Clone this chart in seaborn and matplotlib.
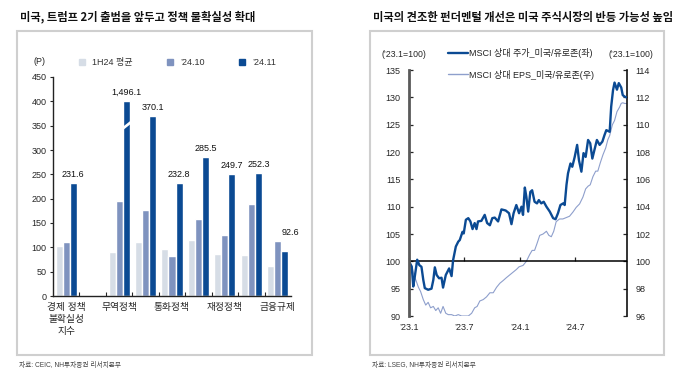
import pandas as pd
import matplotlib.pyplot as plt
import matplotlib.patches as mpatches
from matplotlib.lines import Line2D
import seaborn as sns

# ---- left chart: policy uncertainty (P) ----
slot_labels = ['경제 정책\n불확실성\n지수', '', '무역정책', '', '통화정책', '', '재정정책', '', '금융규제']
group_slots = [0, 2, 3, 4, 5, 6, 7, 8]
avg_1h24 = [102.7, 91.0, 110.0, 96.6, 115.0, 87.0, 84.0, 61.6]
oct_24 = [110.0, 195.0, 176.0, 81.5, 157.5, 124.7, 189.0, 112.0]
nov_24 = [231.6, 1496.1, 370.1, 232.8, 285.5, 249.7, 252.3, 92.6]
series_names = ['1H24 평균', '’24.10', '’24.11']
bar_colors = ['#D6DDE6', '#7F93BF', '#0B4A93']
y_cap = 400

# ---- right chart: MSCI US/Eurozone relative ('23.1=100) ----
price_dates = ['2023-01-01', '2023-01-10', '2023-01-15', '2023-01-20', '2023-01-28', '2023-02-04',
               '2023-02-11', '2023-02-17', '2023-02-22', '2023-03-05', '2023-03-16', '2023-03-22',
               '2023-03-27', '2023-04-02', '2023-04-10', '2023-04-18', '2023-04-23', '2023-05-02',
               '2023-05-13', '2023-05-21', '2023-05-26', '2023-06-04', '2023-06-12', '2023-06-17',
               '2023-06-26', '2023-06-30', '2023-07-07', '2023-07-15', '2023-07-22', '2023-07-29',
               '2023-08-05', '2023-08-11', '2023-08-16', '2023-08-27', '2023-09-07', '2023-09-15',
               '2023-09-24', '2023-10-02', '2023-10-10', '2023-10-21', '2023-11-01', '2023-11-15',
               '2023-11-26', '2023-12-04', '2023-12-11', '2023-12-20', '2023-12-29', '2024-01-06',
               '2024-01-11', '2024-01-17', '2024-01-22', '2024-01-28', '2024-02-04', '2024-02-10',
               '2024-02-18', '2024-02-26', '2024-03-03', '2024-03-11', '2024-03-19', '2024-03-28',
               '2024-04-08', '2024-04-19', '2024-04-27', '2024-05-05', '2024-05-13', '2024-05-22',
               '2024-05-27', '2024-06-02', '2024-06-07', '2024-06-15', '2024-06-21', '2024-06-29',
               '2024-07-07', '2024-07-13', '2024-07-21', '2024-07-28', '2024-08-04', '2024-08-12',
               '2024-08-19', '2024-08-26', '2024-09-02', '2024-09-10', '2024-09-19', '2024-09-28',
               '2024-10-05', '2024-10-11', '2024-10-22', '2024-10-27', '2024-11-02', '2024-11-07',
               '2024-11-15', '2024-11-21', '2024-11-29', '2024-12-04', '2024-12-11', '2024-12-17']
price_vals = [100.0, 99.0, 95.4, 97.2, 100.3, 99.3, 99.0, 96.6, 95.1, 94.8, 95.0, 96.6,
              98.9, 97.5, 96.9, 97.0, 95.2, 97.5, 98.7, 97.3, 100.2, 102.7, 103.6, 103.9,
              105.4, 105.1, 107.6, 107.9, 107.3, 105.9, 107.0, 105.9, 107.3, 107.4, 108.5, 107.0,
              106.6, 107.9, 108.0, 107.3, 109.5, 109.3, 108.8, 106.8, 108.8, 110.3, 108.8, 110.0,
              108.5, 113.5, 111.8, 109.1, 112.7, 113.0, 110.9, 110.6, 111.2, 110.6, 110.9, 110.0,
              109.1, 107.9, 107.7, 108.8, 110.3, 110.6, 110.3, 114.0, 116.1, 117.9, 117.3, 119.1,
              121.3, 118.5, 116.4, 119.8, 119.1, 122.2, 121.6, 118.8, 120.4, 122.2, 121.3, 121.9,
              123.1, 124.0, 123.7, 128.3, 131.3, 132.7, 131.4, 132.6, 131.8, 130.4, 130.1, 130.0]
eps_dates = ['2023-01-01', '2023-01-10', '2023-01-17', '2023-01-24', '2023-02-01', '2023-02-08',
             '2023-02-17', '2023-02-25', '2023-03-05', '2023-03-13', '2023-03-22', '2023-03-30',
             '2023-04-07', '2023-04-15', '2023-04-23', '2023-05-02', '2023-05-10', '2023-05-21',
             '2023-06-01', '2023-06-12', '2023-06-23', '2023-07-04', '2023-07-15', '2023-07-26',
             '2023-08-05', '2023-08-13', '2023-08-22', '2023-09-02', '2023-09-13', '2023-09-24',
             '2023-10-05', '2023-10-16', '2023-10-27', '2023-11-07', '2023-11-17', '2023-11-28',
             '2023-12-09', '2023-12-20', '2023-12-29', '2024-01-11', '2024-01-22', '2024-02-02',
             '2024-02-10', '2024-02-18', '2024-02-26', '2024-03-06', '2024-03-17', '2024-03-28',
             '2024-04-05', '2024-04-13', '2024-04-21', '2024-04-29', '2024-05-10', '2024-05-21',
             '2024-06-01', '2024-06-12', '2024-06-23', '2024-07-04', '2024-07-15', '2024-07-26',
             '2024-08-04', '2024-08-12', '2024-08-19', '2024-08-28', '2024-09-06', '2024-09-13',
             '2024-09-21', '2024-09-30', '2024-10-09', '2024-10-16', '2024-10-22', '2024-10-31',
             '2024-11-07', '2024-11-15', '2024-11-24', '2024-11-29', '2024-12-04', '2024-12-11',
             '2024-12-17']
eps_vals = [100.0, 99.7, 99.0, 98.6, 98.1, 97.8, 97.2, 96.8, 97.0, 96.6, 96.7, 96.4,
            96.6, 96.2, 96.7, 96.2, 96.1, 96.1, 96.0, 96.1, 96.0, 96.0, 96.0, 96.2,
            96.6, 96.7, 97.1, 97.2, 97.4, 97.7, 97.7, 98.1, 98.4, 98.6, 98.8, 99.0,
            99.2, 99.4, 99.6, 99.7, 100.0, 100.5, 100.8, 100.8, 101.3, 101.9, 102.0, 102.2,
            101.9, 101.8, 102.2, 102.9, 103.1, 103.1, 103.2, 103.3, 103.6, 103.95, 104.2, 104.7,
            105.3, 105.5, 105.6, 106.2, 106.6, 106.6, 107.2, 107.8, 108.3, 108.9, 109.2, 110.0,
            110.3, 110.95, 111.3, 111.56, 111.6, 111.55, 111.55]
x_tick_dates = ['2023-01-01', '2023-07-01', '2024-01-01', '2024-07-01']
x_tick_labels = ['’23.1', '’23.7', '’24.1', '’24.7']
line_names = ['MSCI 상대 주가_미국/유로존(좌)', 'MSCI 상대 EPS_미국/유로존(우)']
line_colors = ['#0B4A93', '#8E9FCC']

sns.set_theme(style='ticks')
plt.rcParams['font.family'] = ['Liberation Sans', 'Noto Sans CJK KR', 'DejaVu Sans']
plt.rcParams['axes.unicode_minus'] = False

fig = plt.figure(figsize=(6.78, 3.72), dpi=100)
W, H = 678, 372

# panel frames, titles, sources
for x0, x1, title, src in [(17, 312, '미국, 트럼프 2기 출범을 앞두고 정책 불확실성 확대', '자료: CEIC, NH투자증권 리서치본부'),
                           (370, 664, '미국의 견조한 펀더멘털 개선은 미국 주식시장의 반등 가능성 높임', '자료: LSEG, NH투자증권 리서치본부')]:
    fig.add_artist(mpatches.Rectangle((x0 / W, 1 - 355 / H), (x1 - x0) / W, 324 / H,
                                      transform=fig.transFigure, fill=False, ec='#CFCFCF', lw=1.5))
    fig.text((x0 + 3) / W, 1 - 17 / H, title, fontsize=8.1, fontweight='bold', va='center',
             color='#111111', family=['Noto Sans CJK KR'])
    fig.text((x0 + 2) / W, 1 - 365 / H, src, fontsize=4.8, va='center', color='#444444')

# ---------------- left: grouped bars ----------------
ax1 = fig.add_axes([53 / W, 1 - 296 / H, 238 / W, 219 / H])
rows = []
for name, vals in zip(series_names, [avg_1h24, oct_24, nov_24]):
    for s, v in zip(group_slots, vals):
        rows.append({'slot': s, 'series': name, 'value': v, 'shown': min(v, y_cap)})
bar_df = pd.DataFrame(rows)

sns.barplot(data=bar_df, x='slot', y='shown', hue='series', order=list(range(len(slot_labels))),
            hue_order=series_names, palette=bar_colors, width=0.8, saturation=1,
            legend=False, ax=ax1)

ax1.set_ylim(0, 450)
ax1.set_yticks(range(0, 451, 50))
ax1.set_xlim(-0.5, len(slot_labels) - 0.5)
ax1.set_xticks(range(len(slot_labels)))
ax1.set_xticklabels(slot_labels, fontsize=7, linespacing=1.25)
ax1.set_xticks([k + 0.5 for k in range(len(slot_labels) - 1)], minor=True)
ax1.tick_params(axis='x', which='major', length=0, pad=4)
ax1.tick_params(axis='x', which='minor', direction='in', length=3, width=0.8)
ax1.tick_params(axis='y', direction='out', length=2.5, width=0.8, labelsize=6.5, pad=2)
ax1.set_xlabel('')
ax1.set_ylabel('')
sns.despine(ax=ax1)
for sp in ['left', 'bottom']:
    ax1.spines[sp].set_color('#222222')
    ax1.spines[sp].set_linewidth(1.0)
ax1.text(-0.055, 1.073, '(P)', transform=ax1.transAxes, ha='center', va='center', fontsize=6.5)

# value labels on the '24.11 bars, with a break mark on the capped one
dark_bars = ax1.containers[2]
for bar in dark_bars:
    cx = bar.get_x() + bar.get_width() / 2
    i = group_slots.index(int(round(cx)))
    v = nov_24[i]
    top = max(min(v, y_cap), oct_24[i], avg_1h24[i])
    dx = 0 if top == min(v, y_cap) else 4
    ax1.annotate(f'{v:,.1f}', (cx, top), xytext=(dx, 3), textcoords='offset points',
                 ha='center', va='bottom', fontsize=6.5, color='#111111')
    if v > y_cap:
        bx, bw = bar.get_x(), bar.get_width()
        yb = y_cap * 0.86
        ax1.fill([bx - bw * 0.2, bx + bw * 1.2, bx + bw * 1.2, bx - bw * 0.2],
                 [yb - 6, yb + 10, yb + 17, yb + 1], color='white', zorder=5, lw=0)

leg_handles = [Line2D([], [], marker='s', ls='none', color=c, markersize=4) for c in bar_colors]
ax1.legend(leg_handles, series_names, loc='center', bbox_to_anchor=(0.51, 1.064), ncol=3,
           frameon=False, fontsize=6.5, handletextpad=0.1, columnspacing=3.2,
           borderpad=0, labelcolor='#333333')

# ---------------- right: two lines, two axes ----------------
ax2 = fig.add_axes([409 / W, 1 - 316 / H, 218 / W, 246 / H])
ax3 = ax2.twinx()
ax2.set_zorder(ax3.get_zorder() + 1)
ax2.patch.set_visible(False)

sns.lineplot(x=pd.to_datetime(eps_dates), y=eps_vals, ax=ax3, color=line_colors[1], lw=0.8)
sns.lineplot(x=pd.to_datetime(price_dates), y=price_vals, ax=ax2, color=line_colors[0], lw=1.7)
ax2.axhline(100, color='black', lw=1.1, zorder=1)

ax2.set_ylim(90, 135)
ax2.set_yticks(range(90, 136, 5))
ax3.set_ylim(96, 114)
ax3.set_yticks(range(96, 115, 2))
ax2.set_xlim(pd.Timestamp('2023-01-01'), pd.Timestamp('2024-12-18'))
tick_pos = pd.to_datetime(x_tick_dates)
ax2.set_xticks(tick_pos)
ax2.set_xticklabels(x_tick_labels)
ax2.tick_params(axis='x', length=0, labelsize=6.5, pad=5)
ax2.tick_params(axis='y', direction='in', length=3, width=0.9, labelsize=6.5, pad=6)
ax3.tick_params(axis='y', direction='in', length=3, width=0.9, labelsize=6.5, pad=6)
for a in (ax2, ax3):
    a.set_xlabel('')
    a.set_ylabel('')
    a.spines['top'].set_visible(False)
    a.spines['bottom'].set_visible(False)
ax2.spines['right'].set_visible(False)
ax3.spines['left'].set_visible(False)
ax2.spines['left'].set_color('#5A5A5A')
ax2.spines['left'].set_linewidth(2.0)
ax3.spines['right'].set_color('#111111')
ax3.spines['right'].set_linewidth(1.2)

# tick marks sitting on the 100 line
sec = ax2.secondary_xaxis((100 - 90) / (135 - 90))
sec.set_xticks(tick_pos)
sec.tick_params(axis='x', direction='in', length=3, width=0.9, labelbottom=False, labeltop=False)
for sp in sec.spines.values():
    sp.set_visible(False)

ax2.text(-0.023, 1.065, '(’23.1=100)', transform=ax2.transAxes, ha='center', va='center', fontsize=6.3)
ax2.text(1.018, 1.065, '(’23.1=100)', transform=ax2.transAxes, ha='center', va='center', fontsize=6.3)

line_handles = [Line2D([], [], color=line_colors[0], lw=1.7), Line2D([], [], color=line_colors[1], lw=1.0)]
ax2.legend(line_handles, line_names, loc='upper left', bbox_to_anchor=(0.18, 1.09), frameon=False,
           fontsize=6.5, handlelength=2.2, handletextpad=0.15, labelspacing=1.3,
           borderpad=0, borderaxespad=0, labelcolor='#222222')

fig.savefig('out.png', dpi=100)
